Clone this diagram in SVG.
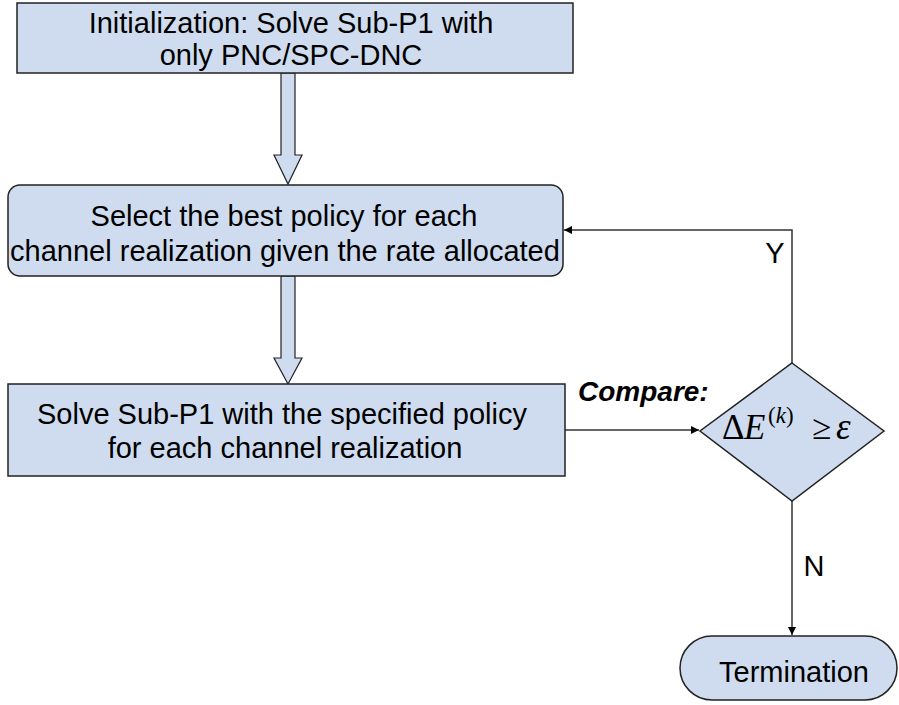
<svg xmlns="http://www.w3.org/2000/svg" width="899" height="705" viewBox="0 0 899 705">
<defs>
<style>
.box{fill:#cfdcef;stroke:#222;stroke-width:1.5}
.blk{fill:#cfdcef;stroke:#222;stroke-width:1.2}
.t{font-family:"Liberation Sans",Arial,sans-serif;font-size:29px;fill:#000;text-anchor:middle}
.ln{fill:none;stroke:#333;stroke-width:1.5}
.m{font-family:"Liberation Serif","Times New Roman",serif;fill:#000}
</style>
<marker id="ah" viewBox="0 0 10 10" refX="10" refY="5" markerWidth="8" markerHeight="8" markerUnits="userSpaceOnUse" orient="auto">
<path d="M0,0 L10,5 L0,10 z" fill="#000"/>
</marker>
</defs>
<rect width="899" height="705" fill="#fff"/>

<g id="connectors">
<path class="blk" d="M281,73 L295,73 L295,155 L302,155 L288,184 L274,155 L281,155 Z"/>
<path class="blk" d="M281,276 L295,276 L295,358 L302,358 L288,384 L274,358 L281,358 Z"/>
<path class="ln" d="M565,430 L699,430" marker-end="url(#ah)"/>
<path class="ln" d="M792,363 L792,230 L564,230" marker-end="url(#ah)"/>
<path class="ln" d="M792,501 L792,635" marker-end="url(#ah)"/>
<text class="t" x="775" y="263">Y</text>
<text class="t" x="814" y="576">N</text>
<text x="578" y="401" style="font-family:'Liberation Sans',Arial,sans-serif;font-size:28px;font-weight:bold;font-style:italic">Compare:</text>
</g>

<g id="init">
<rect class="box" x="17" y="3" width="556" height="70"/>
<text class="t" x="291" y="33">Initialization: Solve Sub-P1 with</text>
<text class="t" x="291" y="65">only PNC/SPC-DNC</text>
</g>

<g id="select">
<rect class="box" x="8" y="185" width="555" height="91" rx="12" ry="12"/>
<text class="t" x="284" y="226">Select the best policy for each</text>
<text class="t" x="285" y="261">channel realization given the rate allocated</text>
</g>

<g id="solve">
<rect class="box" x="8" y="384" width="557" height="92"/>
<text class="t" x="282" y="424">Solve Sub-P1 with the specified policy</text>
<text class="t" x="285" y="458">for each channel realization</text>
</g>

<g id="compare">
<path class="box" d="M792,363 L884,431 L792,501 L700,431 Z"/>
<text class="m" x="722" y="439" font-size="35">Δ</text>
<text class="m" x="744" y="439" font-size="35" font-style="italic">E</text>
<text class="m" x="768" y="423" font-size="23">(<tspan font-style="italic">k</tspan>)</text>
<text class="m" x="812" y="439" font-size="35">≥</text>
<text class="m" x="836" y="439" font-size="37" font-style="italic">ε</text>
</g>

<g id="termination">
<rect class="box" x="680" y="636" width="217" height="64" rx="32" ry="32"/>
<text class="t" x="794" y="682">Termination</text>
</g>
</svg>
